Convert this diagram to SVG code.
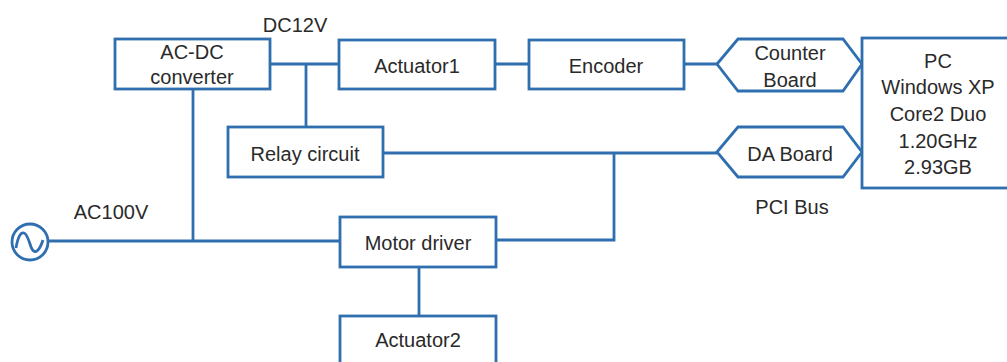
<svg xmlns="http://www.w3.org/2000/svg" width="1007" height="362" viewBox="0 0 1007 362">
<style>
.box{fill:#fff;stroke:#2f6fb0;stroke-width:2.8}
.ln{fill:none;stroke:#2f6fb0;stroke-width:2.8}
text{font-family:"Liberation Sans",Arial,sans-serif;font-size:20px;fill:#2a2a2a;text-anchor:middle}
</style>
<rect width="1007" height="362" fill="#fff"/>
<g id="connectors">
<path class="ln" d="M270 64 H339"/>
<path class="ln" d="M306 64 V127"/>
<path class="ln" d="M495 64 H529"/>
<path class="ln" d="M684 64 H717"/>
<path class="ln" d="M383 153 H717"/>
<path class="ln" d="M614 153 V240 H496"/>
<path class="ln" d="M193 89 V241"/>
<path class="ln" d="M48 241 H340"/>
<path class="ln" d="M419 267 V316"/>
</g>
<g id="ac-source">
<circle class="ln" cx="30" cy="242" r="18"/>
<path class="ln" d="M16 248 C18 236 21 232 24 233 C28 234 30 246 32 249 C35 254 39 252 43 240" stroke-width="2.2"/>
</g>
<g id="acdc">
<rect class="box" x="115" y="39" width="155" height="50"/>
<text x="192" y="59">AC-DC</text>
<text x="192" y="84">converter</text>
</g>
<g id="actuator1">
<rect class="box" x="339" y="40" width="156" height="49"/>
<text x="417" y="73">Actuator1</text>
</g>
<g id="encoder">
<rect class="box" x="529" y="40" width="155" height="49"/>
<text x="606" y="73">Encoder</text>
</g>
<g id="relay">
<rect class="box" x="228" y="127" width="155" height="50"/>
<text x="305" y="161">Relay circuit</text>
</g>
<g id="counter-board">
<polygon class="box" points="717,64 738,39 843,39 862,64 843,91 738,91"/>
<text x="790" y="60">Counter</text>
<text x="790" y="87">Board</text>
</g>
<g id="da-board">
<polygon class="box" points="717,152 738,127 843,127 862,152 843,177 738,177"/>
<text x="790" y="161">DA Board</text>
</g>
<g id="pc">
<rect class="box" x="862" y="38" width="150" height="150"/>
<text x="938" y="68">PC</text>
<text x="938" y="94">Windows XP</text>
<text x="938" y="121">Core2 Duo</text>
<text x="938" y="148">1.20GHz</text>
<text x="938" y="174">2.93GB</text>
</g>
<g id="motor-driver">
<rect class="box" x="340" y="217" width="156" height="50"/>
<text x="418" y="250">Motor driver</text>
</g>
<g id="actuator2">
<rect class="box" x="340" y="316" width="156" height="52"/>
<text x="418" y="347">Actuator2</text>
</g>
<g id="labels">
<text x="295" y="32">DC12V</text>
<text x="111" y="219">AC100V</text>
<text x="792" y="214">PCI Bus</text>
</g>
</svg>
